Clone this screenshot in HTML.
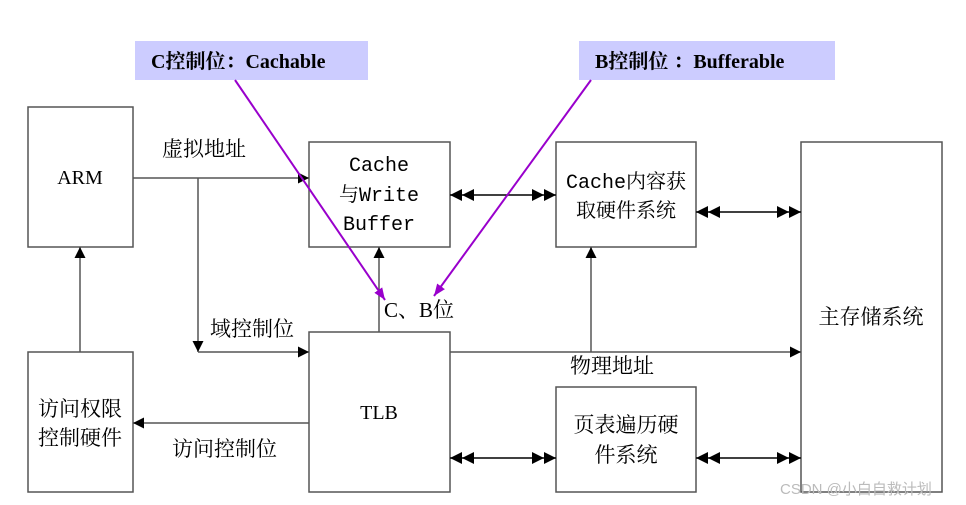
<!DOCTYPE html>
<html><head><meta charset="utf-8"><style>
html,body{margin:0;padding:0;background:#fff;width:966px;height:505px;overflow:hidden}
text{font-family:"Liberation Serif","Noto Serif CJK SC",serif;fill:#000}
.m{font-family:"Liberation Mono","Noto Serif CJK SC",monospace}
</style></head><body>
<svg width="966" height="505" viewBox="0 0 966 505" xmlns="http://www.w3.org/2000/svg">
<defs>
<marker id="a" viewBox="0 0 10 10" refX="10" refY="5" markerWidth="11" markerHeight="11" markerUnits="userSpaceOnUse" orient="auto"><path d="M0,0L10,5L0,10z" fill="#000"/></marker>
<marker id="d" viewBox="0 0 20 10" refX="20" refY="5" markerWidth="24" markerHeight="13" markerUnits="userSpaceOnUse" orient="auto-start-reverse"><path d="M0,0L10,5L0,10zM10,0L20,5L10,10z" fill="#000"/></marker>
<marker id="p" viewBox="0 0 10 10" refX="10" refY="5" markerWidth="12" markerHeight="12" markerUnits="userSpaceOnUse" orient="auto"><path d="M0,1L10,5L0,9z" fill="#9900cc"/></marker>
</defs>
<g fill="none" stroke="#555" stroke-width="1.5">
<rect x="28" y="107" width="105" height="140"/>
<rect x="309" y="142" width="141" height="105"/>
<rect x="556" y="142" width="140" height="105"/>
<rect x="801" y="142" width="141" height="350"/>
<rect x="309" y="332" width="141" height="160"/>
<rect x="28" y="352" width="105" height="140"/>
<rect x="556" y="387" width="140" height="105"/>
</g>
<g stroke="#555" stroke-width="1.5" fill="none">
<line x1="133" y1="178" x2="309" y2="178" marker-end="url(#a)"/>
<line x1="198" y1="178" x2="198" y2="352" marker-end="url(#a)"/>
<line x1="198" y1="352" x2="309" y2="352" marker-end="url(#a)"/>
<line x1="379" y1="332" x2="379" y2="247" marker-end="url(#a)"/>
<line x1="450" y1="352" x2="801" y2="352" marker-end="url(#a)"/>
<line x1="591" y1="352" x2="591" y2="247" marker-end="url(#a)"/>
<line x1="309" y1="423" x2="133" y2="423" marker-end="url(#a)"/>
<line x1="80" y1="352" x2="80" y2="247" marker-end="url(#a)"/>
</g>
<g stroke="#000" stroke-width="1.5">
<line x1="450" y1="195" x2="556" y2="195" marker-start="url(#d)" marker-end="url(#d)"/>
<line x1="696" y1="212" x2="801" y2="212" marker-start="url(#d)" marker-end="url(#d)"/>
<line x1="450" y1="458" x2="556" y2="458" marker-start="url(#d)" marker-end="url(#d)"/>
<line x1="696" y1="458" x2="801" y2="458" marker-start="url(#d)" marker-end="url(#d)"/>
</g>
<rect x="135" y="41" width="233" height="39" fill="#ccccff"/>
<rect x="579" y="41" width="256" height="39" fill="#ccccff"/>
<text x="151" y="68" font-size="20" font-weight="bold">C控制位：Cachable</text>
<text x="595" y="68" font-size="20" font-weight="bold">B控制位 ：Bufferable</text>
<g stroke="#9900cc" stroke-width="2" fill="none">
<line x1="235" y1="80" x2="385" y2="300" marker-end="url(#p)"/>
<line x1="591" y1="80" x2="434" y2="296" marker-end="url(#p)"/>
</g>
<g font-size="20" text-anchor="middle">
<text x="80" y="184">ARM</text>
<text class="m" x="379" y="171">Cache</text>
<text class="m" x="379" y="201">与Write</text>
<text class="m" x="379" y="230">Buffer</text>
<text class="m" x="626" y="188">Cache内容获</text>
<text class="m" x="626" y="217">取硬件系统</text>
<text x="871" y="324" font-size="21">主存储系统</text>
<text x="379" y="419">TLB</text>
<text x="80" y="416" font-size="21">访问权限</text>
<text x="80" y="445" font-size="21">控制硬件</text>
<text x="626" y="432" font-size="21">页表遍历硬</text>
<text x="626" y="462" font-size="21">件系统</text>
</g>
<g font-size="21">
<text x="162" y="156">虚拟地址</text>
<text x="210" y="336">域控制位</text>
<text x="384" y="317">C、B位</text>
<text x="570" y="373">物理地址</text>
<text x="172" y="456">访问控制位</text>
</g>
<text x="780" y="494" font-size="15" style="font-family:'Liberation Sans','Noto Sans CJK SC',sans-serif;fill:#bbb">CSDN @小白自救计划</text>
</svg>
</body></html>
